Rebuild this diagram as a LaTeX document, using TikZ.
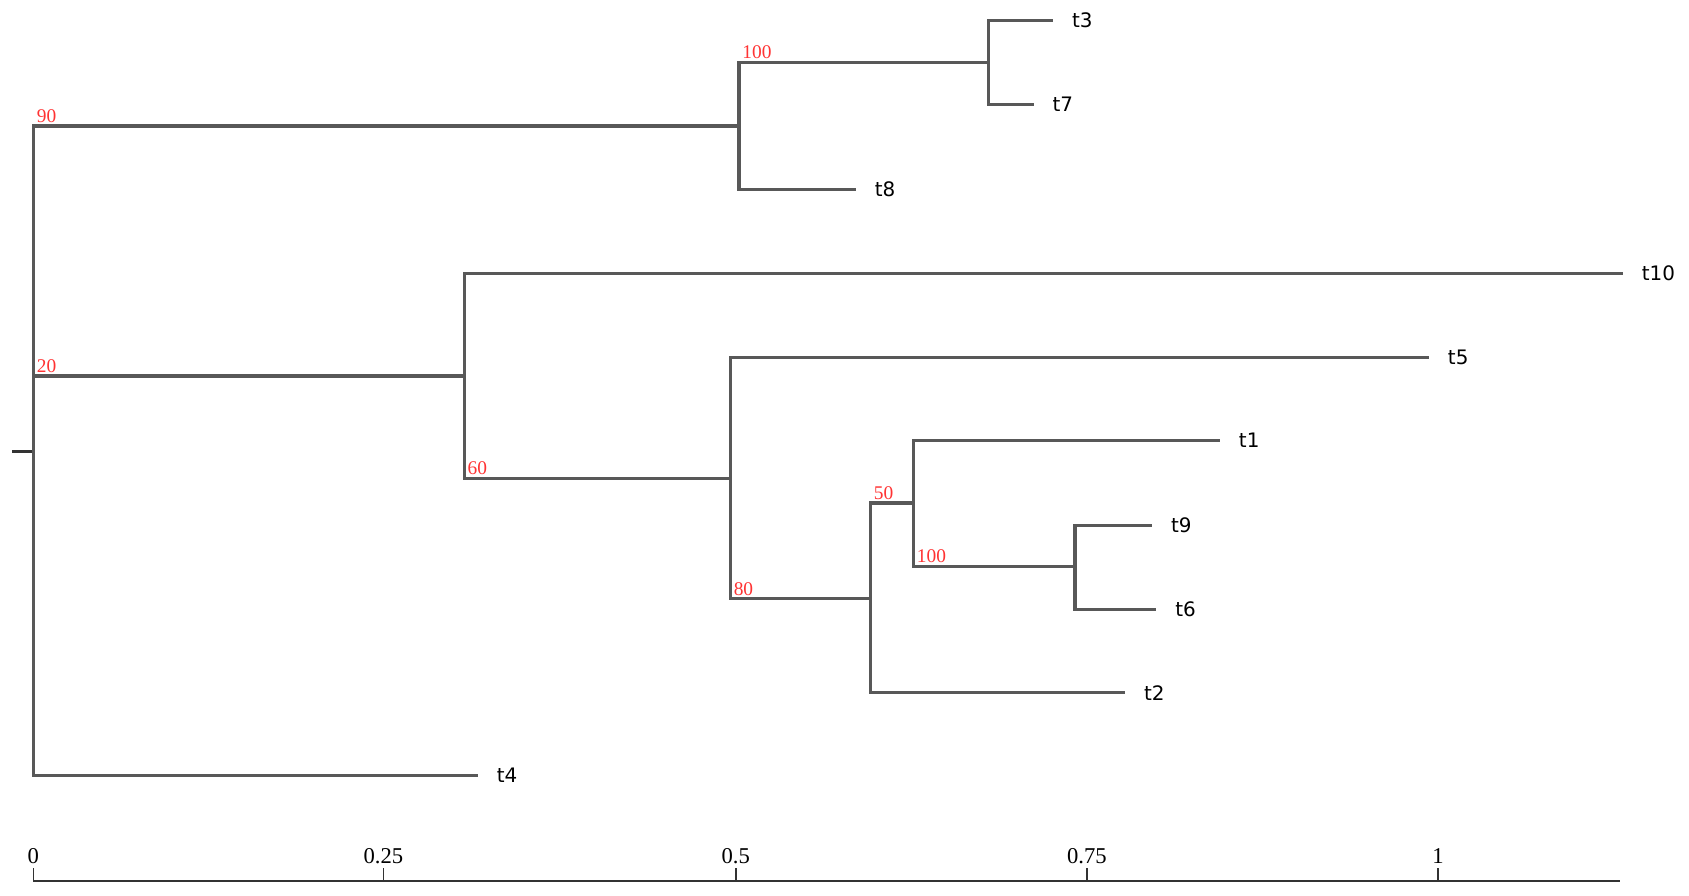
\documentclass[tikz,border=0pt]{standalone}
\usepackage{fontspec}
\setmainfont{Liberation Serif}
\newfontfamily\labfont{DejaVu Sans}
\definecolor{branchgray}{RGB}{88,88,88}
\definecolor{supred}{RGB}{255,51,51}
\tikzset{
  branch/.style={draw=branchgray, line width=2.9pt, line cap=rect},
  leaf/.style={anchor=west, inner sep=0pt, font=\labfont\fontsize{18.5}{20}\selectfont, text=black},
  supp/.style={anchor=south west, inner sep=0pt, font=\fontsize{18}{20}\selectfont, text=supred},
  axislab/.style={anchor=south, inner sep=0pt, font=\fontsize{21}{22}\selectfont, text=black},
  axisline/.style={draw=black!80, line width=1.6pt},
}
\begin{document}
\begin{tikzpicture}[x=1pt, y=-1pt]
\useasboundingbox (0,0) rectangle (1568,831);
% internal node positions (x of vertical bar, y of incoming branch)
\coordinate (R) at (31,419);
\coordinate (RS) at (12,419);
\coordinate (A) at (686,117);
\coordinate (B) at (918,58);
\coordinate (C) at (431,349);
\coordinate (D) at (678,444);
\coordinate (E) at (808,556);
\coordinate (F) at (848,467);
\coordinate (G) at (998,526);
% leaf end points
\coordinate (e3) at (976,19);
\coordinate (e7) at (958,97);
\coordinate (e8) at (793,176);
\coordinate (e10) at (1505,254);
\coordinate (e5) at (1325,332);
\coordinate (e1) at (1131,409);
\coordinate (e9) at (1068,488);
\coordinate (e6) at (1072,566);
\coordinate (e2) at (1043,643);
\coordinate (e4) at (442,720);
% root stub
\draw[branch, draw=black!80, line width=2.2pt] (RS) -- (R);
% root
\draw[branch] (R |- A) -- (R |- e4);
\draw[branch] (R |- A) -- (A);
\draw[branch] (R |- C) -- (C);
\draw[branch] (R |- e4) -- (e4);
% clade A
\draw[branch] (A |- B) -- (A |- e8);
\draw[branch] (A |- B) -- (B);
\draw[branch] (A |- e8) -- (e8);
% clade B
\draw[branch] (B |- e3) -- (B |- e7);
\draw[branch] (B |- e3) -- (e3);
\draw[branch] (B |- e7) -- (e7);
% clade C
\draw[branch] (C |- e10) -- (C |- D);
\draw[branch] (C |- e10) -- (e10);
\draw[branch] (C |- D) -- (D);
% clade D
\draw[branch] (D |- e5) -- (D |- E);
\draw[branch] (D |- e5) -- (e5);
\draw[branch] (D |- E) -- (E);
% clade E
\draw[branch] (E |- F) -- (E |- e2);
\draw[branch] (E |- F) -- (F);
\draw[branch] (E |- e2) -- (e2);
% clade F
\draw[branch] (F |- e1) -- (F |- G);
\draw[branch] (F |- e1) -- (e1);
\draw[branch] (F |- G) -- (G);
% clade G
\draw[branch] (G |- e9) -- (G |- e6);
\draw[branch] (G |- e9) -- (e9);
\draw[branch] (G |- e6) -- (e6);
% leaf labels
\node[leaf] (t3) at ([xshift=19pt]e3) {t3};
\node[leaf] (t7) at ([xshift=19pt]e7) {t7};
\node[leaf] (t8) at ([xshift=19pt]e8) {t8};
\node[leaf] (t10) at ([xshift=19pt]e10) {t10};
\node[leaf] (t5) at ([xshift=19pt]e5) {t5};
\node[leaf] (t1) at ([xshift=19pt]e1) {t1};
\node[leaf] (t9) at ([xshift=19pt]e9) {t9};
\node[leaf] (t6) at ([xshift=19pt]e6) {t6};
\node[leaf] (t2) at ([xshift=19pt]e2) {t2};
\node[leaf] (t4) at ([xshift=19pt]e4) {t4};
% support values
\node[supp] (s90) at ([xshift=3pt,yshift=3pt]R |- A) {90};
\node[supp] (s20) at ([xshift=3pt,yshift=3pt]R |- C) {20};
\node[supp] (s100a) at ([xshift=3pt,yshift=3pt]A |- B) {100};
\node[supp] (s60) at ([xshift=3pt,yshift=3pt]C |- D) {60};
\node[supp] (s80) at ([xshift=3pt,yshift=3pt]D |- E) {80};
\node[supp] (s50) at ([xshift=3pt,yshift=3pt]E |- F) {50};
\node[supp] (s100b) at ([xshift=3pt,yshift=3pt]F |- G) {100};
% scale axis
\coordinate (ax0) at (31,818);
\coordinate (ax1) at (1504,818);
\draw[axisline] (ax0) -- (ax1);
\foreach \xv/\lab [count=\i] in {31/0, 356/0.25, 683/0.5, 1009/0.75, 1335/1}{
  \coordinate (tk\i) at (\xv,818);
  \draw[axisline] (tk\i) -- ++(0,-12);
  \node[axislab] (al\i) at (\xv,802) {\lab};
}
\end{tikzpicture}
\end{document}
